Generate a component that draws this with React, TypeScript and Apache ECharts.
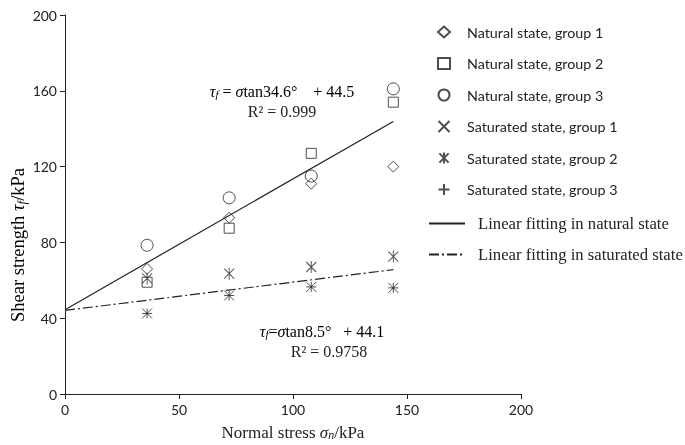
import React, { useEffect, useRef } from "react";
import * as echarts from "echarts";

const stress = [36, 72, 108, 144];
const natural1 = [66, 93, 111, 120];
const natural2 = [59, 87.5, 127, 154];
const natural3 = [78.5, 103.5, 115, 161];
const saturated1 = [42.5, 52, 56.5, 56];
const saturated2 = [61, 63.5, 67, 72.5];
const saturated3 = [42.5, 52, 56.5, 56];

const naturalFit = { angle: 34.6, c: 44.5 };
const saturatedFit = { angle: 8.5, c: 44.1 };
const fitRange = [0, 144];

const xTicks = { min: 0, max: 200, interval: 50 };
const yTicks = { min: 0, max: 200, interval: 40 };

const seriesNames = [
  "Natural state, group 1",
  "Natural state, group 2",
  "Natural state, group 3",
  "Saturated state, group 1",
  "Saturated state, group 2",
  "Saturated state, group 3",
];
const fitNames = ["Linear fitting in natural state", "Linear fitting in saturated state"];

const INK = "#222";
const SANS = "Lato, 'Open Sans', sans-serif";
const SERIF = "'Liberation Serif', 'DejaVu Serif', serif";

const pts = (ys: number[]) => stress.map((x, i) => [x, ys[i]]);
const fitLine = (f: { angle: number; c: number }) =>
  fitRange.map((x) => [x, +(x * Math.tan((f.angle * Math.PI) / 180) + f.c).toFixed(2)]);

const CROSS = "path://M0,0L10,10M10,0L0,10";
const STAR = "path://M0,1L10,11M10,1L0,11M5,0L5,12";
const PLUS = "path://M5,0L5,10M0,5L10,5";

function scatter(name: string, data: number[][], symbol: string, size: number | number[]) {
  return {
    name,
    type: "scatter",
    data,
    symbol,
    symbolSize: size,
    itemStyle: { color: "transparent", borderColor: INK, borderWidth: 1 },
    emphasis: { disabled: true },
    z: 3,
  };
}

export default function App() {
  const ref = useRef<HTMLDivElement>(null);
  useEffect(() => {
    if (!ref.current) return;
    const chart = echarts.init(ref.current, null, { renderer: "svg" });
    const serifRich = {
      i: { fontFamily: SERIF, fontStyle: "italic", fontSize: 16, color: INK },
      sub: { fontFamily: SERIF, fontStyle: "italic", fontSize: 11, color: INK, verticalAlign: "bottom", padding: [6, 0, 0, 0] },
      n: { fontFamily: SERIF, fontSize: 16, color: INK },
    };
    const nameRich = {
      n: { fontFamily: SERIF, fontSize: 17, color: INK },
      i: { fontFamily: SERIF, fontStyle: "italic", fontSize: 17, color: INK },
      sub: { fontFamily: SERIF, fontStyle: "italic", fontSize: 12, color: INK, verticalAlign: "bottom", padding: [6, 0, 0, 0] },
    };
    const yNameRich = {
      n: { fontFamily: SERIF, fontSize: 18.5, color: INK },
      i: { fontFamily: SERIF, fontStyle: "italic", fontSize: 18.5, color: INK },
      sub: { fontFamily: SERIF, fontStyle: "italic", fontSize: 13, color: INK, verticalAlign: "bottom", padding: [6, 0, 0, 0] },
    };
    chart.setOption({
      animation: false,
      grid: { left: 65, right: 164, top: 15, bottom: 51, containLabel: false, outerBoundsMode: "none" },
      xAxis: {
        type: "value",
        min: xTicks.min,
        max: xTicks.max,
        interval: xTicks.interval,
        splitLine: { show: false },
        axisLine: { lineStyle: { color: INK } },
        axisTick: { show: true, length: 5, lineStyle: { color: INK } },
        axisLabel: { fontFamily: SANS, fontSize: 14, color: INK, margin: 8 },
        name: "{n|Normal stress }{i|σ}{sub|n}{n|/kPa}",
        nameLocation: "middle",
        nameGap: 29,
        nameTextStyle: { rich: nameRich },
      },
      yAxis: {
        type: "value",
        min: yTicks.min,
        max: yTicks.max,
        interval: yTicks.interval,
        splitLine: { show: false },
        axisLine: { show: true, lineStyle: { color: INK } },
        axisTick: { show: true, length: 5, lineStyle: { color: INK } },
        axisLabel: { fontFamily: SANS, fontSize: 14, color: INK, margin: 8 },
      },
      legend: [
        {
          orient: "vertical",
          left: 432,
          top: 20,
          itemWidth: 12,
          itemHeight: 11,
          itemGap: 17.5,
          data: seriesNames,
          textStyle: { fontFamily: SANS, fontSize: 14.3, color: INK, padding: [0, 0, 0, 12] },
          selectedMode: false,
        },
        {
          orient: "vertical",
          left: 423,
          top: 210,
          itemWidth: 36,
          itemHeight: 14,
          itemGap: 14,
          data: fitNames,
          itemStyle: { opacity: 0 },
          textStyle: { fontFamily: SERIF, fontSize: 16.7, color: INK, padding: [0, 0, 0, 8] },
          selectedMode: false,
        },
      ],
      series: [
        scatter(seriesNames[0], pts(natural1), "diamond", 11),
        scatter(seriesNames[1], pts(natural2), "rect", 10),
        scatter(seriesNames[2], pts(natural3), "circle", 12),
        scatter(seriesNames[3], pts(saturated1), CROSS, 10),
        scatter(seriesNames[4], pts(saturated2), STAR, [10, 12]),
        scatter(seriesNames[5], pts(saturated3), PLUS, 10),
        {
          name: fitNames[0],
          type: "line",
          data: fitLine(naturalFit),
          symbol: "none",
          lineStyle: { color: INK, width: 1.2, type: "solid" },
          itemStyle: { color: INK },
          emphasis: { disabled: true },
          z: 2,
        },
        {
          name: fitNames[1],
          type: "line",
          data: fitLine(saturatedFit),
          symbol: "none",
          lineStyle: { color: INK, width: 1.2, type: [10, 3, 2, 3] },
          itemStyle: { color: INK },
          emphasis: { disabled: true },
          z: 2,
        },
      ],
      graphic: [
        {
          type: "text",
          x: 18,
          y: 245,
          rotation: Math.PI / 2,
          style: {
            text: "{n|Shear strength }{i|τ}{sub|f}{n|/kPa}",
            align: "center",
            verticalAlign: "middle",
            rich: yNameRich,
          },
        },
        {
          type: "text",
          x: 282,
          y: 91,
          style: {
            text: "{i|τ}{sub|f}{n| = }{i|σ}{n|tan34.6°    + 44.5}",
            align: "center",
            verticalAlign: "middle",
            rich: serifRich,
          },
        },
        {
          type: "text",
          x: 282,
          y: 111,
          style: { text: "R² = 0.999", align: "center", verticalAlign: "middle", font: `16px ${SERIF}`, fill: INK },
        },
        {
          type: "text",
          x: 322,
          y: 331,
          style: {
            text: "{i|τ}{sub|f}{n|=}{i|σ}{n|tan8.5°   + 44.1}",
            align: "center",
            verticalAlign: "middle",
            rich: serifRich,
          },
        },
        {
          type: "text",
          x: 329,
          y: 351,
          style: { text: "R² = 0.9758", align: "center", verticalAlign: "middle", font: `16px ${SERIF}`, fill: INK },
        },
      ],
    });
    return () => chart.dispose();
  }, []);
  return <div ref={ref} style={{ position: "fixed", left: 0, top: 0, width: 685, height: 445 }} />;
}
